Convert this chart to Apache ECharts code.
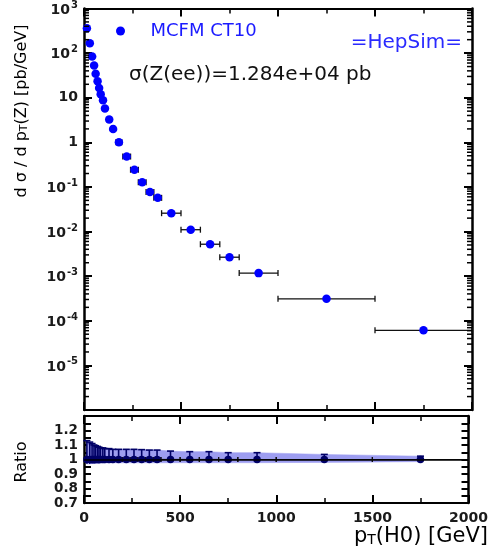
<!DOCTYPE html>
<html><head><meta charset="utf-8">
<script src="https://cdn.jsdelivr.net/npm/echarts@6/dist/echarts.min.js"></script>
<style>html,body{margin:0;padding:0;background:#fff}#c{width:491px;height:555px}</style>
</head><body><div id="c"></div>
<script>
// ---- data ----
const pT      = [15, 30, 42, 52, 60, 70, 78, 86, 98, 108, 130, 150, 180, 220, 260, 300, 340, 380, 450, 550, 650, 750, 900, 1250, 1750];
const binLow  = [10, 25, 37, 47, 56, 65, 74, 82, 92, 103, 120, 140, 165, 200, 240, 280, 320, 360, 400, 500, 600, 700, 800, 1000, 1500];
const binHigh = [20, 35, 47, 56, 65, 74, 82, 92, 103, 113, 140, 160, 195, 240, 280, 320, 360, 400, 500, 600, 700, 800, 1000, 1500, 2000];
const dsigma  = [359, 166, 84, 53, 34.4, 23.3, 16.5, 12.0, 8.8, 5.7, 3.25, 1.99, 1.0, 0.48, 0.243, 0.128, 0.077, 0.057, 0.0258, 0.011, 0.0052, 0.00266, 0.00117, 0.00031, 0.000061];
const ratio   = [1, 1, 1, 1, 1, 1, 1, 1, 1, 1, 1, 1, 1, 1, 1, 1, 1, 1, 1, 1, 1, 1, 1, 1, 1];
const ratioErrUp   = [0.13, 0.12, 0.11, 0.10, 0.095, 0.09, 0.085, 0.08, 0.08, 0.075, 0.075, 0.07, 0.07, 0.07, 0.07, 0.068, 0.065, 0.065, 0.058, 0.054, 0.054, 0.047, 0.047, 0.035, 0.023];
const ratioErrDown = [0.03, 0.03, 0.028, 0.027, 0.026, 0.025, 0.025, 0.024, 0.024, 0.024, 0.023, 0.023, 0.023, 0.023, 0.023, 0.023, 0.023, 0.023, 0.022, 0.022, 0.022, 0.022, 0.022, 0.02, 0.015];
const xTickLabels = ['0', '500', '1000', '1500', '2000'];
const seriesName = 'MCFM CT10';
const annotation = 'σ(Z(ee))=1.284e+04 pb';
const brand = '=HepSim=';

// ---- styling ----
const FF = 'DejaVu Sans';
const BLUE = '#0000ff';
const NAVY = '#000066';
const BAND = '#9d9df0';

// minor log ticks (axis decoration: 2..9 x 10^n)
const logMinor = [];
for (let n = -6; n <= 2; n++) for (let k = 2; k <= 9; k++) logMinor.push([0, k * Math.pow(10, n)]);

const chart = echarts.init(document.getElementById('c'));

function xAxisCfg(grid, pos, labels) {
  return {
    type: 'value', gridIndex: grid, position: pos, min: 0, max: 2000, interval: 500,
    axisLine: { show: true, onZero: false, lineStyle: { color: '#000', width: 2 } },
    axisTick: { show: true, inside: true, length: 8, lineStyle: { color: '#000', width: 2 } },
    minorTick: { show: true, splitNumber: 2, length: 5, lineStyle: { color: '#000', width: 1.5 } },
    splitLine: { show: false },
    axisLabel: labels ? {
      show: true, margin: 8, color: '#1a1a1a', fontFamily: FF, fontWeight: 'bold', fontSize: 14,
      formatter: v => xTickLabels[Math.round(v / 500)]
    } : { show: false }
  };
}
function logAxisCfg(pos, labels) {
  return {
    type: 'log', logBase: 10, gridIndex: 0, position: pos, min: 1e-6, max: 1e3,
    axisLine: { show: true, onZero: false, lineStyle: { color: '#000', width: 2.5 } },
    axisTick: { show: true, inside: true, length: 8, lineStyle: { color: '#000', width: 2 } },
    splitLine: { show: false },
    axisLabel: labels ? {
      show: true, margin: 6, showMinLabel: false, color: '#1a1a1a', fontFamily: FF, fontWeight: 'bold', fontSize: 14,
      formatter: v => {
        const n = Math.round(Math.log10(v));
        if (n === 0) return '{b|1}';
        if (n === 1) return '{b|10}';
        return '{b|10}{s|' + n + '}';
      },
      rich: {
        b: { fontFamily: FF, fontWeight: 'bold', fontSize: 14, color: '#1a1a1a', verticalAlign: 'bottom' },
        s: { fontFamily: FF, fontWeight: 'bold', fontSize: 10, color: '#1a1a1a', verticalAlign: 'bottom', padding: [0, 0, 7, 1] }
      }
    } : { show: false }
  };
}
function ratioAxisCfg(pos, labels) {
  return {
    type: 'value', gridIndex: 1, position: pos, min: 0.7, max: 1.3, interval: 0.05,
    axisLine: { show: true, onZero: false, lineStyle: { color: '#000', width: 2.5 } },
    axisTick: { show: true, inside: true, length: 7, lineStyle: { color: '#000', width: 2 } },
    splitLine: { show: false },
    axisLabel: labels ? {
      show: true, margin: 6, showMaxLabel: false, color: '#1a1a1a', fontFamily: FF, fontWeight: 'bold', fontSize: 13.5,
      formatter: v => Math.abs(v * 10 - Math.round(v * 10)) < 1e-6 ? String(+v.toFixed(1)) : ''
    } : { show: false }
  };
}

const mainPts = pT.map((x, i) => [x, dsigma[i]]);
const mainErr = pT.map((x, i) => [binLow[i], binHigh[i], x, dsigma[i]]);
const ratioPts = pT.map((x, i) => [x, ratio[i]]);
const ratioErr = pT.map((x, i) => [x, ratio[i], ratio[i] - ratioErrDown[i], ratio[i] + ratioErrUp[i], binLow[i], binHigh[i]]);
const bandSeg = [];
for (let i = 0; i < pT.length - 1; i++) {
  bandSeg.push([pT[i], ratio[i] - ratioErrDown[i], ratio[i] + ratioErrUp[i], pT[i + 1], ratio[i + 1] - ratioErrDown[i + 1], ratio[i + 1] + ratioErrUp[i + 1]]);
}

const option = {
  animation: false,
  backgroundColor: '#fff',
  grid: [
    { left: 84, top: 7, width: 388, height: 403 },
    { left: 84, top: 416, width: 388, height: 87 }
  ],
  xAxis: [xAxisCfg(0, 'bottom', false), xAxisCfg(0, 'top', false), xAxisCfg(1, 'bottom', true), xAxisCfg(1, 'top', false)],
  yAxis: [logAxisCfg('left', true), logAxisCfg('right', false), ratioAxisCfg('left', true), ratioAxisCfg('right', false)],
  legend: {
    show: true, left: 111, top: 17, itemWidth: 50, itemHeight: 9, icon: 'circle', selectedMode: false,
    data: [seriesName],
    itemStyle: { opacity: 1 },
    textStyle: { color: '#1a1aff', fontFamily: FF, fontSize: 18 }
  },
  graphic: [
    { type: 'text', left: 129, top: 65, style: { text: annotation, font: '20px "DejaVu Sans"', fill: '#111' } },
    { type: 'text', right: 29, top: 33, style: { text: brand, font: '20px "DejaVu Sans"', fill: '#2a2aff' } },
    { type: 'text', x: 22, y: 111, rotation: Math.PI / 2,
      style: { text: '{a|d σ / d p}{s|T}{a|(Z) [pb/GeV]}', align: 'center', verticalAlign: 'middle',
        rich: { a: { fontFamily: FF, fontSize: 16, fill: '#000', verticalAlign: 'bottom' }, s: { fontFamily: FF, fontSize: 11, fill: '#000', verticalAlign: 'bottom' } } } },
    { type: 'text', x: 22, y: 462, rotation: Math.PI / 2,
      style: { text: 'Ratio', font: '16px "DejaVu Sans"', fill: '#000', align: 'center', verticalAlign: 'middle' } },
    { type: 'text', x: 488, y: 537,
      style: { text: '{a|p}{s|T}{a|(H0) [GeV]}', align: 'right', verticalAlign: 'middle',
        rich: { a: { fontFamily: FF, fontSize: 21, fill: '#000', verticalAlign: 'bottom' }, s: { fontFamily: FF, fontSize: 14, fill: '#000', verticalAlign: 'bottom' } } } }
  ],
  series: [
    { // minor log ticks on both sides of the main frame
      type: 'custom', xAxisIndex: 0, yAxisIndex: 0, silent: true, clip: false, z: 5,
      data: logMinor,
      renderItem: (params, api) => {
        const v = api.value(1);
        const l = api.coord([0, v]);
        const r = api.coord([2000, v]);
        const st = { stroke: '#000', lineWidth: 1.5 };
        return { type: 'group', children: [
          { type: 'line', shape: { x1: l[0], y1: l[1], x2: l[0] + 5, y2: l[1] }, style: st },
          { type: 'line', shape: { x1: r[0] - 5, y1: r[1], x2: r[0], y2: r[1] }, style: st }
        ] };
      }
    },
    { // horizontal bin-width error bars
      type: 'custom', xAxisIndex: 0, yAxisIndex: 0, silent: true, z: 3,
      encode: { x: [0, 1], y: 3 },
      data: mainErr,
      renderItem: (params, api) => {
        const a = api.coord([api.value(0), api.value(3)]);
        const b = api.coord([api.value(1), api.value(3)]);
        const st = { stroke: '#111', lineWidth: 1.3 };
        return { type: 'group', children: [
          { type: 'line', shape: { x1: a[0], y1: a[1], x2: b[0], y2: b[1] }, style: st },
          { type: 'line', shape: { x1: a[0], y1: a[1] - 3, x2: a[0], y2: a[1] + 3 }, style: st },
          { type: 'line', shape: { x1: b[0], y1: b[1] - 3, x2: b[0], y2: b[1] + 3 }, style: st }
        ] };
      }
    },
    {
      name: seriesName, type: 'scatter', xAxisIndex: 0, yAxisIndex: 0, z: 4,
      symbol: 'circle', symbolSize: 8.5, itemStyle: { color: BLUE, opacity: 1 },
      data: mainPts
    },
    { // ratio uncertainty band
      type: 'custom', xAxisIndex: 2, yAxisIndex: 2, silent: true, z: 1,
      encode: { x: [0, 3], y: [1, 2, 4, 5] },
      data: bandSeg,
      renderItem: (params, api) => {
        const p1 = api.coord([api.value(0), api.value(2)]);
        const p2 = api.coord([api.value(3), api.value(5)]);
        const p3 = api.coord([api.value(3), api.value(4)]);
        const p4 = api.coord([api.value(0), api.value(1)]);
        return { type: 'polygon', shape: { points: [p1, p2, p3, p4] }, style: { fill: BAND, stroke: BAND, lineWidth: 0.5 } };
      }
    },
    { // ratio error bars
      type: 'custom', xAxisIndex: 2, yAxisIndex: 2, silent: true, z: 3,
      encode: { x: [0, 4, 5], y: [1, 2, 3] },
      data: ratioErr,
      renderItem: (params, api) => {
        const x = api.value(0), y = api.value(1);
        const lo = api.coord([x, api.value(2)]);
        const hi = api.coord([x, api.value(3)]);
        const a = api.coord([api.value(4), y]);
        const b = api.coord([api.value(5), y]);
        const sv = { stroke: NAVY, lineWidth: 1.6 };
        const sh = { stroke: '#111', lineWidth: 1.2 };
        return { type: 'group', children: [
          { type: 'line', shape: { x1: lo[0], y1: lo[1], x2: hi[0], y2: hi[1] }, style: sv },
          { type: 'line', shape: { x1: hi[0] - 3.5, y1: hi[1], x2: hi[0] + 3.5, y2: hi[1] }, style: sv },
          { type: 'line', shape: { x1: a[0], y1: a[1], x2: b[0], y2: b[1] }, style: sh },
          { type: 'line', shape: { x1: a[0], y1: a[1] - 2.5, x2: a[0], y2: a[1] + 2.5 }, style: sh },
          { type: 'line', shape: { x1: b[0], y1: b[1] - 2.5, x2: b[0], y2: b[1] + 2.5 }, style: sh }
        ] };
      }
    },
    {
      type: 'scatter', xAxisIndex: 2, yAxisIndex: 2, z: 4,
      symbol: 'circle', symbolSize: 7.5, itemStyle: { color: NAVY, opacity: 1 },
      data: ratioPts,
      markLine: { silent: true, symbol: 'none', label: { show: false },
        lineStyle: { color: '#000', width: 1.5, type: 'solid' }, data: [{ yAxis: 1 }] }
    }
  ]
};
chart.setOption(option);
</script>
</body></html>
